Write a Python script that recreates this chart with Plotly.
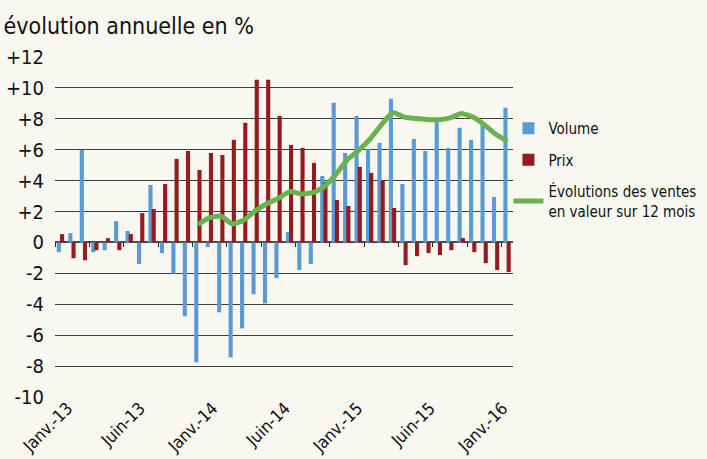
import numpy as np
import plotly.graph_objects as go

# Monthly index of the observations (40 months)
months = list(range(40))

# Annual change in volume (%)
volume = [-0.63, 0.60, 5.99, -0.63, -0.50, 1.38, 0.74, -1.40, 3.72, -0.69,
          -2.01, -4.78, -7.76, -0.30, -4.52, -7.44, -5.56, -3.35, -3.94, -2.31,
          0.67, -1.79, -1.40, 4.30, 9.04, 5.79, 8.19, 6.05, 6.44, 9.30,
          3.78, 6.70, 5.92, 7.87, 6.12, 7.42, 6.64, 7.61, 2.94, 8.71]

# Annual change in price (%)
prix = [0.54, -1.02, -1.15, -0.50, 0.28, -0.50, 0.54, 1.90, 2.16, 3.78,
        5.41, 5.92, 4.69, 5.79, 5.66, 6.64, 7.74, 10.53, 10.53, 8.19,
        6.31, 6.12, 5.15, 3.91, 2.75, 2.36, 4.89, 4.50, 3.98, 2.23,
        -1.47, -0.89, -0.69, -0.82, -0.50, 0.28, -0.63, -1.34, -1.79, -1.92]

# Change in sales value over 12 months (%), available from the 13th month
valeur_12m = [None] * 12 + [
    1.15, 1.60, 1.70, 1.20, 1.45, 2.05, 2.50, 2.85, 3.29, 3.14,
    3.22, 3.61, 4.37, 5.34, 5.95, 6.68, 7.61, 8.41, 8.11, 8.02,
    7.96, 7.94, 8.06, 8.35, 8.11, 7.61, 7.00, 6.55]

# Axis labels
period_labels = ["Janv.-13", "Juin-13", "Janv.-14", "Juin-14",
                 "Janv.-15", "Juin-15", "Janv.-16"]
y_ticks = [12, 10, 8, 6, 4, 2, 0, -2, -4, -6, -8, -10]
y_labels = ["+12", "+10", "+8", "+6", "+4", "+2", "0",
            "-2", "-4", "-6", "-8", "-10"]

FONT = "DejaVu Sans Condensed, Liberation Sans Narrow, Arial Narrow, sans-serif"
BG = "#f8f7f0"
BLUE = "#5b9bd5"
RED = "#951b1f"
GREEN = "#6ab150"

fig = go.Figure()

fig.add_trace(go.Bar(
    x=months, y=volume, name="Volume", legendgroup="vol",
    marker=dict(color=BLUE, line=dict(width=0)),
    offset=-0.34, width=0.36,
))
fig.add_trace(go.Bar(
    x=months, y=prix, name="Prix", legendgroup="prix",
    marker=dict(color=RED, line=dict(width=0)),
    offset=-0.06, width=0.36,
))
fig.add_trace(go.Scatter(
    x=months, y=valeur_12m, mode="lines", legendgroup="val",
    name="Évolutions des ventes<br>en valeur sur 12 mois",
    line=dict(color=GREEN, width=5, shape="spline", smoothing=0.5),
    connectgaps=False,
))

# Quarterly tick marks on the zero line (category boundaries)
fig.add_trace(go.Scatter(x=[None], y=[None], xaxis="x2", showlegend=False,
                         hoverinfo="skip"))

n = len(months)
label_pos = np.linspace(0.6, n - 1.4, len(period_labels))
y_range = [-10, 12]

fig.update_layout(
    width=707, height=459,
    margin=dict(l=55, r=194, t=57, b=62, autoexpand=False),
    paper_bgcolor=BG, plot_bgcolor=BG,
    barmode="overlay",
    font=dict(family=FONT, color="#111111"),
    title=dict(text="évolution annuelle en %", x=0.005, xanchor="left",
               y=0.943, yanchor="middle",
               font=dict(size=23, family=FONT, color="#111111")),
    xaxis=dict(
        range=[-0.5, n - 0.5], showgrid=False, zeroline=False,
        showline=False, ticks="", automargin=False,
        tickmode="array", tickvals=label_pos, ticktext=period_labels,
        tickangle=-45, tickfont=dict(size=17, family=FONT),
        ticklabelstandoff=-3,
    ),
    xaxis2=dict(
        overlaying="x", anchor="free",
        position=(0 - y_range[0]) / (y_range[1] - y_range[0]),
        range=[-0.5, n - 0.5], showgrid=False, zeroline=False,
        showline=False, ticks="outside", ticklen=4, tickwidth=1,
        tickcolor="#222222", showticklabels=False,
        tickmode="array", tickvals=[i - 0.5 for i in range(0, n + 1, 3)],
    ),
    yaxis=dict(
        range=y_range, tickmode="array", tickvals=y_ticks, ticktext=y_labels,
        showgrid=True, gridcolor="#3c3c3c", gridwidth=1.2,
        zeroline=True, zerolinecolor="#4a4a4a", zerolinewidth=2,
        showline=False, ticks="", ticklabelstandoff=10, automargin=False,
        tickfont=dict(size=20, family=FONT),
    ),
    legend=dict(
        x=0.99, xanchor="left", y=0.838, yanchor="top",
        bgcolor="rgba(0,0,0,0)", font=dict(size=15, family=FONT),
        tracegroupgap=9, itemwidth=30,
    ),
    showlegend=True,
)

fig.write_html("out.html")
